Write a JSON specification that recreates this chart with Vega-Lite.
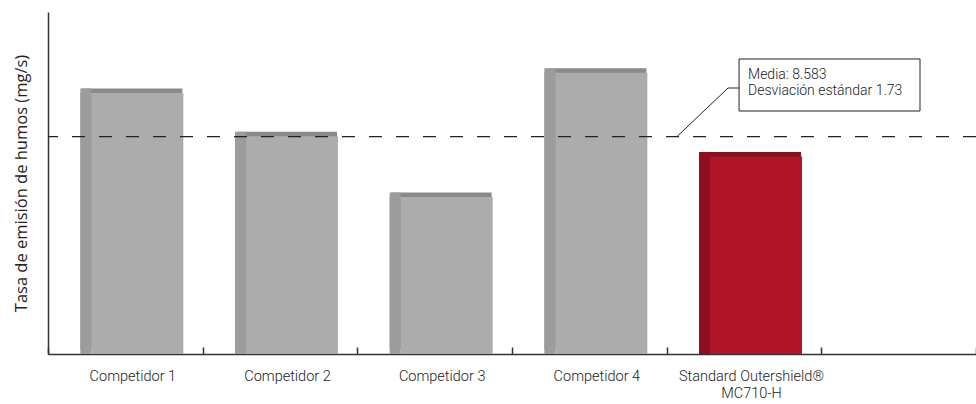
{
  "$schema": "https://vega.github.io/schema/vega-lite/v6.json",
  "width": 928,
  "height": 342,
  "autosize": "none",
  "padding": {"left": 48, "top": 12, "right": 0, "bottom": 50},
  "background": "white",
  "config": {
    "view": {"stroke": null},
    "axisY": {
      "ticks": false,
      "labels": false,
      "grid": false,
      "domainColor": "#333333",
      "domainWidth": 1.5,
      "titleFont": "Open Sans",
      "titleFontSize": 16.5,
      "titleFontWeight": "normal",
      "titleColor": "#222222",
      "titlePadding": 19
    }
  },
  "datasets": {
    "barras": [
      {"producto": "Competidor 1", "valor": 10.3, "grupo": "competidor"},
      {"producto": "Competidor 2", "valor": 8.6, "grupo": "competidor"},
      {"producto": "Competidor 3", "valor": 6.2, "grupo": "competidor"},
      {"producto": "Competidor 4", "valor": 11.1, "grupo": "competidor"},
      {"producto": "Standard Outershield® MC710-H", "valor": 7.8, "grupo": "hobart"}
    ],
    "media": [{"media": 8.583}],
    "caja": [{"pos": 4.468, "pos2": 5.638, "yv": 11.645, "yv2": 9.592}],
    "textos": [
      {"pos": 4.526, "yv": 11.01, "texto": "Media: 8.583"},
      {"pos": 4.526, "yv": 10.38, "texto": "Desviación estándar 1.73"}
    ],
    "guia": [
      {"orden": 1, "pos": 4.067, "yv": 8.583},
      {"orden": 2, "pos": 4.397, "yv": 10.5},
      {"orden": 3, "pos": 4.468, "yv": 10.5}
    ]
  },
  "resolve": {"scale": {"x": "independent"}, "axis": {"x": "independent"}},
  "layer": [
    {
      "data": {"name": "barras"},
      "encoding": {
        "x": {
          "field": "producto",
          "type": "nominal",
          "sort": null,
          "scale": {
            "domain": ["Competidor 1", "Competidor 2", "Competidor 3", "Competidor 4", "Standard Outershield® MC710-H", ""],
            "paddingInner": 0,
            "paddingOuter": 0
          },
          "axis": {
            "title": null,
            "labelAngle": 0,
            "tickBand": "extent",
            "tickSize": -7,
            "tickColor": "#333333",
            "tickWidth": 1.5,
            "domainColor": "#333333",
            "domainWidth": 1.5,
            "labelFont": "Roboto",
            "labelFontSize": 14.5,
            "labelFontWeight": 300,
            "labelColor": "#222222",
            "labelOffset": 7,
            "labelPadding": 22,
            "labelLineHeight": 17,
            "labelOverlap": false,
            "labelExpr": "datum.label == 'Standard Outershield® MC710-H' ? ['Standard Outershield®', 'MC710-H'] : datum.label"
          }
        },
        "y": {
          "field": "valor",
          "type": "quantitative",
          "title": "Tasa de emisión de humos (mg/s)",
          "scale": {"domain": [0, 13.5], "nice": false, "zero": true}
        }
      },
      "layer": [
        {
          "mark": {"type": "bar", "size": 100, "xOffset": 7, "yOffset": -4.5},
          "encoding": {
            "color": {"condition": {"test": "datum.grupo == 'hobart'", "value": "#85121d"}, "value": "#8a8a8a"}
          }
        },
        {
          "mark": {"type": "bar", "size": 11, "xOffset": -39.5, "yOffset": -4.5},
          "encoding": {
            "color": {"condition": {"test": "datum.grupo == 'hobart'", "value": "#8e0f1d"}, "value": "#9c9c9c"}
          }
        },
        {
          "mark": {"type": "bar", "size": 11, "xOffset": -39.5},
          "encoding": {
            "color": {"condition": {"test": "datum.grupo == 'hobart'", "value": "#8e0f1d"}, "value": "#9c9c9c"}
          }
        },
        {
          "mark": {"type": "bar", "size": 92, "xOffset": 12},
          "encoding": {
            "color": {"condition": {"test": "datum.grupo == 'hobart'", "value": "#b01427"}, "value": "#acacac"}
          }
        },
        {
          "data": {"name": "media"},
          "mark": {"type": "rule", "strokeDash": [13, 14], "color": "#222222", "strokeWidth": 1.2},
          "encoding": {
            "x": null,
            "y": {"field": "media", "type": "quantitative", "title": "Tasa de emisión de humos (mg/s)"}
          }
        }
      ]
    },
    {
      "data": {"name": "guia"},
      "mark": {"type": "line", "color": "#222222", "strokeWidth": 1},
      "encoding": {
        "x": {"field": "pos", "type": "quantitative", "scale": {"domain": [0, 6], "nice": false, "zero": false}, "axis": null},
        "y": {"field": "yv", "type": "quantitative", "title": "Tasa de emisión de humos (mg/s)"},
        "order": {"field": "orden"}
      }
    },
    {
      "data": {"name": "caja"},
      "mark": {"type": "rect", "fill": "white", "stroke": "#222222", "strokeWidth": 1},
      "encoding": {
        "x": {"field": "pos", "type": "quantitative", "scale": {"domain": [0, 6], "nice": false, "zero": false}, "axis": null},
        "x2": {"field": "pos2"},
        "y": {"field": "yv", "type": "quantitative", "title": "Tasa de emisión de humos (mg/s)"},
        "y2": {"field": "yv2"}
      }
    },
    {
      "data": {"name": "textos"},
      "mark": {"type": "text", "align": "left", "baseline": "middle", "font": "Roboto", "fontSize": 14, "fontWeight": 300, "color": "#222222"},
      "encoding": {
        "x": {"field": "pos", "type": "quantitative", "scale": {"domain": [0, 6], "nice": false, "zero": false}, "axis": null},
        "y": {"field": "yv", "type": "quantitative", "title": "Tasa de emisión de humos (mg/s)"},
        "text": {"field": "texto"}
      }
    }
  ]
}
